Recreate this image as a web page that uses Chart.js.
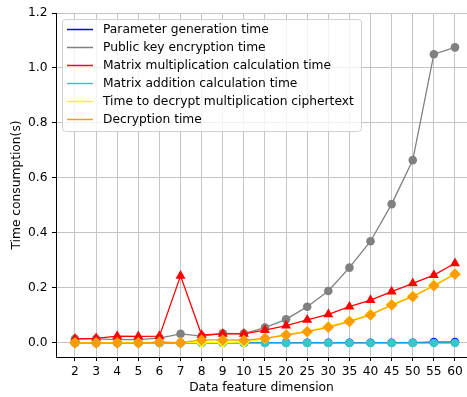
<!DOCTYPE html>
<html>
<head>
<meta charset="utf-8">
<script src="https://cdn.jsdelivr.net/npm/chart.js@4.4.1/dist/chart.umd.min.js"></script>
<style>
  html, body { margin: 0; padding: 0; background: #fff; overflow: hidden; }
  #wrap { width: 467px; height: 397px; }
</style>
</head>
<body>
<div id="wrap"><canvas id="timeChart" width="467" height="397"></canvas></div>
<script>
// Dimensiones de las características (eje X)
const dims = [2, 3, 4, 5, 6, 7, 8, 9, 10, 15, 20, 25, 30, 35, 40, 45, 50, 55, 60];

// Series de tiempo (s)
const paramGen   = [0.001, 0.001, 0.001, 0.001, 0.001, 0.001, 0.001, 0.001, 0.001, 0.001, 0.001, 0.001, 0.001, 0.001, 0.001, 0.001, 0.001, 0.003, 0.003];
const pubKeyEnc  = [0.015, 0.015, 0.012, 0.012, 0.018, 0.033, 0.025, 0.035, 0.034, 0.056, 0.086, 0.132, 0.189, 0.274, 0.370, 0.505, 0.665, 1.050, 1.075];
const matMul     = [0.015, 0.017, 0.025, 0.024, 0.025, 0.244, 0.029, 0.033, 0.033, 0.047, 0.063, 0.084, 0.104, 0.132, 0.156, 0.187, 0.217, 0.247, 0.290];
const matAdd     = [0.0, 0.0, 0.0, 0.0, 0.0, 0.0, 0.0, 0.0, 0.0, 0.0, 0.0, 0.0, 0.0, 0.0, 0.0, 0.0, 0.0, 0.0, 0.0];
const decMulCt   = [0.001, 0.001, 0.001, 0.001, 0.002, 0.002, 0.002, 0.002, 0.003, 0.015, 0.030, 0.043, 0.060, 0.080, 0.105, 0.140, 0.171, 0.211, 0.252];
const decryption = [0.0, 0.0, 0.0, 0.0, 0.003, 0.001, 0.011, 0.011, 0.010, 0.017, 0.029, 0.041, 0.057, 0.078, 0.102, 0.138, 0.168, 0.208, 0.250];

const yTicks = [0.0, 0.2, 0.4, 0.6, 0.8, 1.0, 1.2];

const FONT = 'DejaVu Sans';
const FSIZE = 12.25;

// Leyenda dibujada a mano, estilo matplotlib
const legendBox = {
    id: 'legendBox',
    afterDatasetsDraw(chart) {
        const ctx = chart.ctx;
        ctx.save();
        ctx.beginPath();
        ctx.roundRect(62.5, 19.5, 299, 112, 3);
        ctx.fillStyle = 'rgba(255,255,255,0.8)';
        ctx.fill();
        ctx.strokeStyle = '#d0d0d0';
        ctx.lineWidth = 1;
        ctx.stroke();
        ctx.font = FSIZE + 'px "' + FONT + '"';
        ctx.textBaseline = 'middle';
        chart.data.datasets.forEach((ds, i) => {
            const y = 29.5 + i * 18;
            ctx.beginPath();
            ctx.moveTo(67, y);
            ctx.lineTo(93, y);
            ctx.strokeStyle = ds.borderColor;
            ctx.lineWidth = 1.5;
            ctx.stroke();
            ctx.fillStyle = '#000';
            ctx.fillText(ds.label, 103, y + 0.5);
        });
        ctx.restore();
    }
};

const mkSet = (label, data, color, style, radius, order) => ({
    label: label,
    data: data,
    borderColor: color,
    backgroundColor: color,
    borderWidth: 1.3,
    pointStyle: style,
    pointRadius: radius,
    pointBorderWidth: 0,
    pointHoverRadius: radius,
    tension: 0,
    order: order
});

const ctx = document.getElementById('timeChart');
new Chart(ctx, {
    type: 'line',
    data: {
        labels: dims.map((d, i) => i),
        datasets: [
            mkSet('Parameter generation time', paramGen, '#0000ff', 'circle', 4.3, 6),
            mkSet('Public key encryption time', pubKeyEnc, '#808080', 'circle', 4.3, 5),
            mkSet('Matrix multiplication calculation time', matMul, '#ff0000', 'triangle', 5.8, 4),
            mkSet('Matrix addition calculation time', matAdd, '#33c9c9', 'circle', 4.3, 3),
            mkSet('Time to decrypt multiplication ciphertext', decMulCt, '#ffff00', 'rectRot', 5.5, 2),
            mkSet('Decryption time', decryption, '#ff9c00', 'rectRot', 5.8, 1)
        ]
    },
    options: {
        responsive: false,
        animation: false,
        events: [],
        layout: { autoPadding: false, padding: { left: 0, top: 13, right: 0, bottom: 0 } },
        plugins: {
            legend: { display: false },
            tooltip: { enabled: false }
        },
        scales: {
            x: {
                type: 'linear',
                min: -0.9,
                max: 18.57,
                afterBuildTicks: s => { s.ticks = dims.map((d, i) => ({ value: i })); },
                afterFit: s => { s.height = 40; s.paddingLeft = 0; s.paddingRight = 0; },
                border: { color: '#000', width: 1 },
                grid: { color: '#c4c4c4', lineWidth: 1, tickLength: 4, tickColor: '#000' },
                ticks: {
                    color: '#000',
                    font: { family: FONT, size: FSIZE },
                    padding: 3,
                    maxRotation: 0,
                    autoSkip: false,
                    callback: v => dims[v]
                },
                title: {
                    display: true,
                    text: 'Data feature dimension',
                    color: '#000',
                    font: { family: FONT, size: FSIZE },
                    padding: { top: 0, bottom: 1.5 }
                }
            },
            y: {
                min: -0.051,
                max: 1.2,
                afterBuildTicks: s => { s.ticks = yTicks.map(v => ({ value: v })); },
                afterFit: s => { s.width = 56; s.paddingTop = 0; s.paddingBottom = 0; },
                border: { color: '#000', width: 1 },
                grid: { color: '#c4c4c4', lineWidth: 1, tickLength: 4, tickColor: '#000' },
                ticks: {
                    color: '#000',
                    font: { family: FONT, size: FSIZE },
                    padding: 4.5,
                    callback: v => v.toFixed(1)
                },
                title: {
                    display: true,
                    text: 'Time consumption(s)',
                    color: '#000',
                    font: { family: FONT, size: FSIZE },
                    padding: { top: 9.5, bottom: 0 }
                }
            }
        }
    },
    plugins: [legendBox]
});
</script>
</body>
</html>
